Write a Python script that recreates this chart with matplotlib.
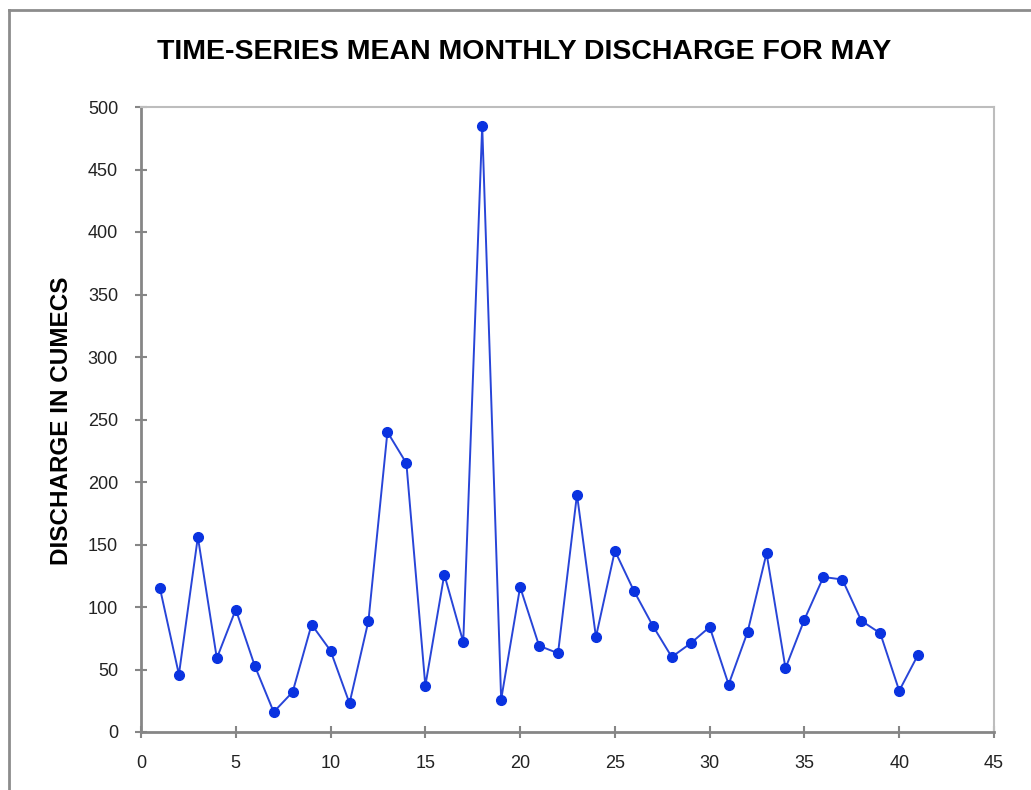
import matplotlib.pyplot as plt
from matplotlib.lines import Line2D

# data
years = list(range(1, 42))
discharge = [115, 46, 156, 59, 98, 53, 16, 32, 86, 65,
             23, 89, 240, 215, 37, 126, 72, 485, 26, 116,
             69, 63, 190, 76, 145, 113, 85, 60, 71, 84,
             38, 80, 143, 51, 90, 124, 122, 89, 79, 33, 62]
x_ticks = list(range(0, 50, 5))
y_ticks = list(range(0, 550, 50))

title = 'TIME-SERIES MEAN MONTHLY DISCHARGE FOR MAY'
y_label = 'DISCHARGE IN CUMECS'

plt.rcParams['font.family'] = ['Liberation Sans', 'DejaVu Sans']

fig = plt.figure(figsize=(10.31, 7.9), dpi=100)
ax = fig.add_axes([141 / 1031, 1 - 732 / 790, 853 / 1031, 625 / 790])

# outer chart frame (top and left edges visible)
fig.add_artist(Line2D([9 / 1031, 1], [1 - 10 / 790, 1 - 10 / 790],
                      transform=fig.transFigure, color='#8c8c8c', lw=2))
fig.add_artist(Line2D([9 / 1031, 9 / 1031], [0, 1 - 10 / 790],
                      transform=fig.transFigure, color='#8c8c8c', lw=2))

ax.plot(years, discharge, color='#2845d8', lw=1.4,
        marker='o', markersize=7, markerfacecolor='#0a33e0',
        markeredgecolor='#0a33e0', clip_on=False)

ax.set_xlim(0, 45)
ax.set_ylim(0, 500)
ax.set_xticks(x_ticks)
ax.set_yticks(y_ticks)

for side in ['left', 'bottom']:
    ax.spines[side].set_color('#868686')
    ax.spines[side].set_linewidth(2)
for side in ['top', 'right']:
    ax.spines[side].set_color('#bdbdbd')
    ax.spines[side].set_linewidth(1.5)

ax.tick_params(direction='inout', length=9, width=1.5, color='#868686',
               labelsize=13, labelcolor='#222222', pad=12)

fig.text(524 / 1031, 1 - 52 / 790, title, ha='center', va='center',
         fontsize=20.5, fontweight='bold')
fig.text(62 / 1031, 1 - 421 / 790, y_label, ha='center', va='center',
         rotation=90, fontsize=17.5, fontweight='bold')

fig.savefig('out.png', dpi=100)
